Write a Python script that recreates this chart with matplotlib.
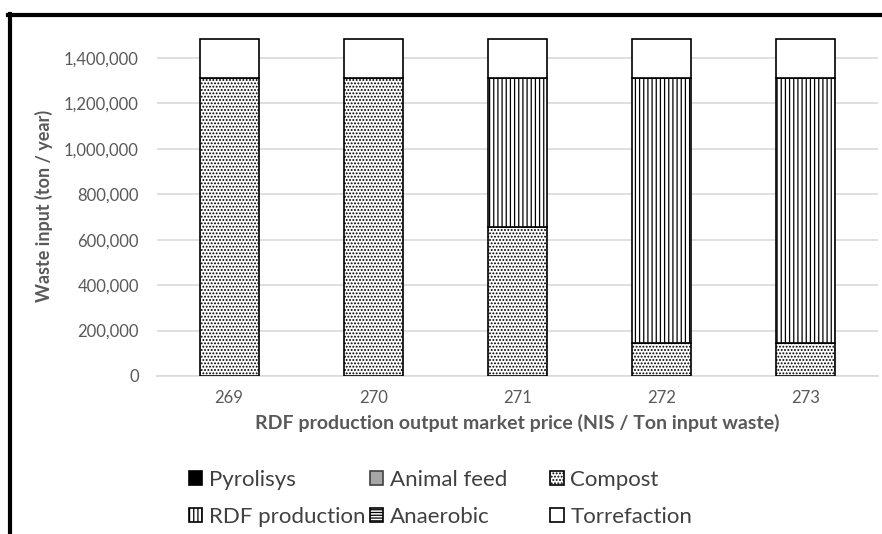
import matplotlib
matplotlib.use("Agg")
import matplotlib.pyplot as plt
from matplotlib.ticker import FuncFormatter
from matplotlib.lines import Line2D
import numpy as np

plt.rcParams['font.family'] = ['Lato', 'DejaVu Sans']
plt.rcParams['hatch.linewidth'] = 0.9

prices = ['269', '270', '271', '272', '273']
pyrolisys = [0, 0, 0, 0, 0]
animal_feed = [0, 0, 0, 0, 0]
compost = [1310000, 1310000, 655000, 145000, 145000]
rdf_production = [0, 0, 655000, 1165000, 1165000]
anaerobic = [0, 0, 0, 0, 0]
torrefaction = [175000, 175000, 175000, 175000, 175000]

series = [
    ('Pyrolisys', pyrolisys, dict(color='black', edgecolor='black')),
    ('Animal feed', animal_feed, dict(color='#a6a6a6', edgecolor='#404040')),
    ('Compost', compost, dict(color='white', edgecolor='black', hatch='.....')),
    ('RDF production', rdf_production, dict(color='white', edgecolor='black', hatch='||||')),
    ('Anaerobic', anaerobic, dict(color='white', edgecolor='black', hatch='------')),
    ('Torrefaction', torrefaction, dict(color='white', edgecolor='black')),
]

fig = plt.figure(figsize=(8.82, 5.34), dpi=100)
ax = fig.add_axes([0.178, 0.296, 0.817, 0.638])

x = np.arange(len(prices))
bottom = np.zeros(len(prices))
handles = {}
for name, vals, style in series:
    bars = ax.bar(x, vals, width=0.41, bottom=bottom, linewidth=1.2,
                  label=name, zorder=3, **style)
    handles[name] = bars
    bottom += np.array(vals)

ax.set_xlim(-0.5, len(prices) - 0.5)
ax.set_ylim(0, 1500000)
ax.set_yticks(np.arange(0, 1400001, 200000))
ax.yaxis.set_major_formatter(FuncFormatter(lambda v, p: f'{int(v):,}'))
ax.set_xticks(x)
ax.set_xticklabels(prices)
ax.grid(axis='y', color='#d9d9d9', linewidth=1.2, zorder=0)
for s in ['top', 'right', 'left']:
    ax.spines[s].set_visible(False)
ax.spines['bottom'].set_color('#d9d9d9')
ax.spines['bottom'].set_linewidth(1.2)
ax.tick_params(length=0, labelsize=12, colors='#595959')
ax.tick_params(axis='y', pad=13)
ax.tick_params(axis='x', pad=10)

ax.set_xlabel('RDF production output market price (NIS / Ton input waste)',
              fontsize=14, fontweight='bold', color='#595959', labelpad=6)
ax.set_ylabel('Waste input (ton / year)', fontsize=13, fontweight='bold',
              color='#595959', labelpad=8)

# three legend columns, two entries each
columns = [('Pyrolisys', 'RDF production'), ('Animal feed', 'Anaerobic'),
           ('Compost', 'Torrefaction')]
col_x = [0.214, 0.419, 0.624]
for names, cx in zip(columns, col_x):
    leg = fig.legend([handles[n] for n in names], names, frameon=False,
                     loc='center left', bbox_to_anchor=(cx, 0.067),
                     bbox_transform=fig.transFigure, fontsize=16,
                     handlelength=0.6, handleheight=0.6, handletextpad=0.3,
                     labelspacing=0.75, borderpad=0, borderaxespad=0)
    for t in leg.get_texts():
        t.set_color('#404040')

# frame border along the top and left edges
fig.add_artist(Line2D([0.009, 1.0], [0.972, 0.972], color='black', linewidth=3,
                      transform=fig.transFigure))
fig.add_artist(Line2D([0.011, 0.011], [0.0, 0.974], color='black', linewidth=3,
                      transform=fig.transFigure))

fig.savefig('out.png', dpi=100)
